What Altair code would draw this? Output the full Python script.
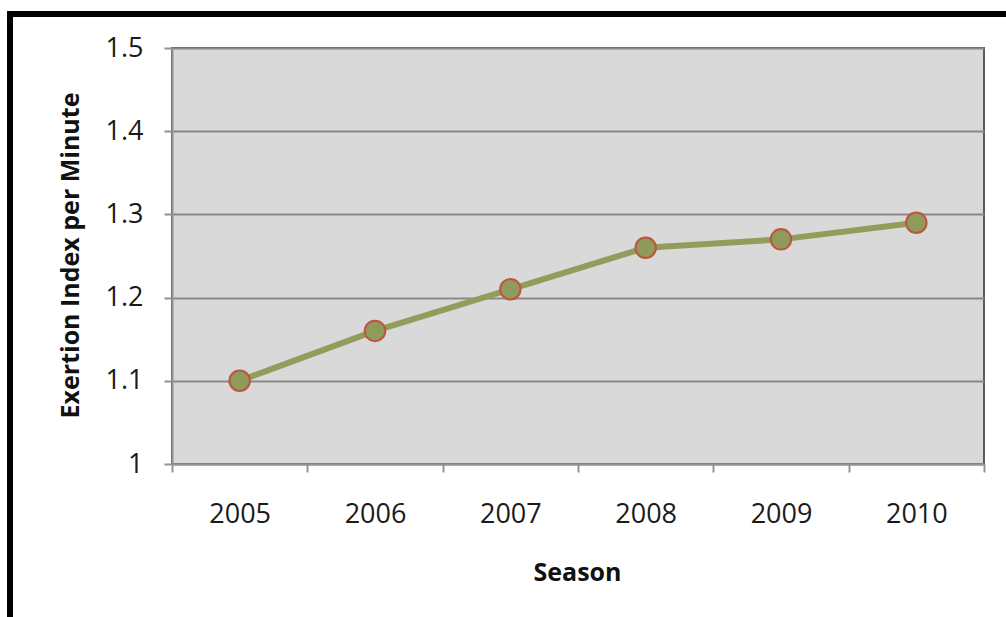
import altair as alt
import pandas as pd

# Season averages of the exertion index
seasons = ["2005", "2006", "2007", "2008", "2009", "2010"]
exertion = [1.10, 1.16, 1.21, 1.26, 1.27, 1.29]
y_ticks = [1.0, 1.1, 1.2, 1.3, 1.4, 1.5]

df = pd.DataFrame({"Season": seasons, "Exertion": exertion})

FONT = "Open Sans"
LINE_COLOR = "#949c5c"

x_enc = alt.X(
    "Season:N",
    sort=seasons,
    scale=alt.Scale(paddingInner=0, paddingOuter=0),
    axis=alt.Axis(
        title="Season",
        labelAngle=0,
        tickBand="extent",
        tickSize=8,
        tickColor="#9a9090",
        tickWidth=2,
        domainColor="#9a9090",
        domainWidth=2,
        labelFont=FONT,
        labelFontSize=27,
        labelColor="#1a1a1a",
        labelPadding=29,
        titleFont=FONT,
        titleFontSize=25,
        titleFontWeight="bold",
        titleColor="#111111",
        titleX=405,
        titleY=108,
        titleAlign="center",
        titleBaseline="middle",
        grid=False,
    ),
)

y_enc = alt.Y(
    "Exertion:Q",
    scale=alt.Scale(domain=[1.0, 1.5], nice=False, zero=False),
    axis=alt.Axis(
        title="Exertion Index per Minute",
        values=y_ticks,
        format="~g",
        tickSize=8,
        tickColor="#9a9090",
        tickWidth=2,
        domainColor="#9a9090",
        domainWidth=2,
        gridColor="#8c8888",
        gridWidth=2,
        labelFont=FONT,
        labelFontSize=27,
        labelColor="#1a1a1a",
        labelPadding=21,
        titleFont=FONT,
        titleFontSize=25,
        titleFontWeight="bold",
        titleColor="#111111",
        titleX=-102,
        titleY=207,
        titleAngle=270,
        titleAlign="center",
        titleBaseline="middle",
    ),
)

line = alt.Chart(df).mark_line(color=LINE_COLOR, strokeWidth=6).encode(x=x_enc, y=y_enc)

points = alt.Chart(df).mark_point(
    filled=True,
    fill="#8f9b5b",
    stroke="#bd5540",
    strokeWidth=2,
    size=420,
    opacity=1,
).encode(x="Season:N", y="Exertion:Q")

# black frame around the whole figure
frame = alt.Chart(pd.DataFrame({"f": [0]})).mark_rect(
    fill="transparent", stroke="#000000", strokeWidth=6
).encode(
    x=alt.value(-162),
    x2=alt.value(870),
    y=alt.value(-34),
    y2=alt.value(620),
)

chart = (
    alt.layer(frame, line, points)
    .properties(
        width=812,
        height=416,
        padding={"left": 172, "top": 48, "right": 22, "bottom": 153},
        autosize=alt.AutoSizeParams(type="none"),
        background="#ffffff",
    )
    .configure_view(fill="#d9d9d9", stroke="#5a5a5a", strokeWidth=2)
)

chart.save("out.html", embed_options={"renderer": "svg", "actions": False})
